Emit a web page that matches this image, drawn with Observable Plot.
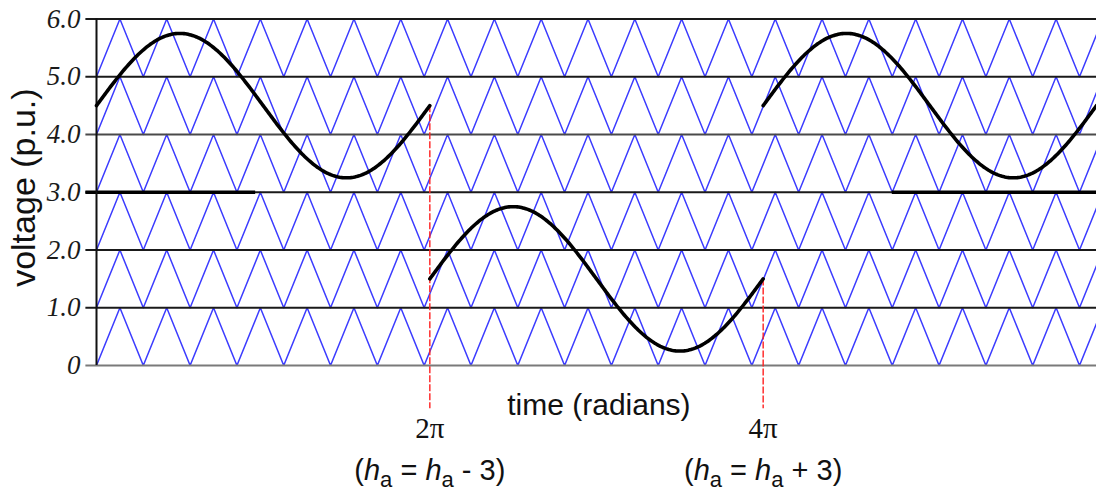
<!DOCTYPE html>
<html>
<head>
<meta charset="utf-8">
<script src="https://cdn.jsdelivr.net/npm/d3@7"></script>
<script src="https://cdn.jsdelivr.net/npm/@observablehq/plot@0.6"></script>
<style>
  html, body { margin: 0; padding: 0; background: #fff; }
  #chart svg { display: block; }
</style>
</head>
<body>
<div id="chart"></div>
<script>
// Voltage levels of the cascaded converter (p.u.) and their tick labels
const levels = [0, 1, 2, 3, 4, 5, 6];
const levelLabels = ["0", "1.0", "2.0", "3.0", "4.0", "5.0", "6.0"];

// Level-shifted triangular carriers: one per band, all in phase
const carrierBands = [0, 1, 2, 3, 4, 5];
const carrierPeriod = 15 / 17; // radians per carrier cycle

// Reference waveform, piecewise: offset changes when h_a is rotated
const segmentStart = [0, 2 * Math.PI, 4 * Math.PI];
const segmentEnd = [2 * Math.PI, 4 * Math.PI, 6 * Math.PI];
const segmentOffset = [4.5, 1.5, 4.5];
const refAmplitude = 1.25;

// Switching instants and their annotations
const switchTimes = [2 * Math.PI, 4 * Math.PI];
const switchLabels = ["2\u03c0", "4\u03c0"];
const switchFormulas = ["(h_a = h_a - 3)", "(h_a = h_a + 3)"];

// Heavier stretches of the 3.0 p.u. line
const heavyStart = [-0.2, 15.0];
const heavyEnd = [3.0, 6 * Math.PI];

const tMax = 6 * Math.PI;

// Carrier vertices (peaks and valleys)
const carriers = [];
for (const b of carrierBands) {
  for (let n = 0; n * carrierPeriod / 2 <= tMax + carrierPeriod; n++) {
    carriers.push({band: b, t: n * carrierPeriod / 2, v: b + (n % 2)});
  }
}

// Sampled reference sinusoid for each segment
const reference = [];
segmentStart.forEach((s, i) => {
  const N = 240;
  for (let k = 0; k <= N; k++) {
    const t = s + (segmentEnd[i] - s) * k / N;
    reference.push({seg: i, t, v: segmentOffset[i] + refAmplitude * Math.sin(t)});
  }
});

const grid = levels.map((v, i) => ({v, label: levelLabels[i]}));
const heavy = heavyStart.map((s, i) => ({x1: s, x2: heavyEnd[i]}));
const switches = switchTimes.map((t, i) => ({
  t, label: switchLabels[i], formula: switchFormulas[i],
  top: segmentOffset[i] + refAmplitude * Math.sin(t)
}));

const gridColor = v => v === 0 ? "#7a7a7a" : v === 4 ? "#4a4a4a" : "#1a1a1a";

const plot = Plot.plot({
  width: 1096,
  height: 497,
  marginLeft: 96,
  marginRight: 0,
  marginTop: 18.5,
  marginBottom: 132,
  x: {domain: [0, tMax], axis: null},
  y: {domain: [0, 6], axis: null},
  marks: [
    // triangular carriers
    Plot.line(carriers, {x: "t", y: "v", z: "band", stroke: "#3c3cff", strokeWidth: 1.5, clip: true}),
    // level lines with short tick stubs to the left of the axis
    Plot.ruleY(grid, {y: "v", x1: -0.2, x2: tMax, stroke: d => gridColor(d.v), strokeWidth: 2.2}),
    Plot.ruleY(heavy, {y: 3, x1: "x1", x2: "x2", stroke: "#000", strokeWidth: 3.4}),
    // vertical axis
    Plot.ruleX([0], {y1: 0, y2: 6, stroke: "#111", strokeWidth: 2}),
    // level labels
    Plot.text(grid, {
      x: 0, y: "v", text: "label", dx: -16, textAnchor: "end",
      fontFamily: "Liberation Serif", fontStyle: "italic", fontSize: 27, fill: "#1a1a1a"
    }),
    // switching instants
    Plot.ruleX(switches, {x: "t", y1: "top", y2: -0.75, stroke: "#ff2020", strokeWidth: 1.4, strokeDasharray: "7,2"}),
    // reference waveform
    Plot.line(reference, {x: "t", y: "v", z: "seg", stroke: "#000", strokeWidth: 3.6}),
    // axis titles
    Plot.text(["voltage (p.u.)"], {
      x: -1.36, y: 3.08, text: d => d, rotate: -90,
      fontFamily: "Liberation Sans", fontSize: 34, fill: "#111"
    }),
    Plot.text(["time (radians)"], {
      x: 9.47, y: -0.69, text: d => d,
      fontFamily: "Liberation Sans", fontSize: 30, fill: "#111"
    }),
    Plot.text(switches, {
      x: "t", y: -1.1, text: "label",
      fontFamily: "Liberation Serif", fontSize: 29, fill: "#111"
    }),
    Plot.text(switches, {
      x: "t", y: -1.82, text: "formula",
      fontFamily: "Liberation Sans", fontSize: 29, fill: "#111"
    })
  ]
});

document.getElementById("chart").appendChild(plot);

// Rewrite the formulas with an italic h and a subscript a
d3.select(plot).selectAll("text").each(function () {
  const t = d3.select(this);
  const src = this.textContent;
  if (!src.includes("h_a")) return;
  t.selectAll("*").remove();
  t.text(null);
  const parts = src.split("h_a");
  let lowered = false;
  parts.forEach((p, i) => {
    if (p) {
      t.append("tspan").attr("dy", lowered ? -7 : null).text(p);
      lowered = false;
    }
    if (i < parts.length - 1) {
      t.append("tspan").attr("font-style", "italic").attr("dy", lowered ? -7 : null).text("h");
      t.append("tspan").attr("font-size", 22).attr("dy", 7).text("a");
      lowered = true;
    }
  });
});
</script>
</body>
</html>
